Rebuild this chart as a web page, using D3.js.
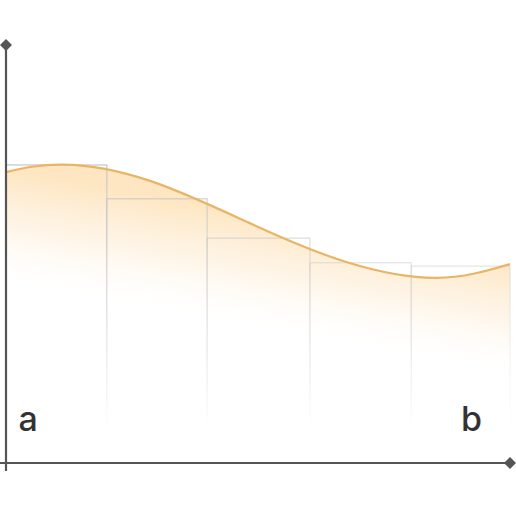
<!DOCTYPE html>
<html>
<head>
<meta charset="utf-8">
<script src="https://cdn.jsdelivr.net/npm/d3@7"></script>
<style>
  html, body { margin: 0; padding: 0; background: #fff; }
  svg { display: block; }
</style>
</head>
<body>
<svg id="chart"></svg>
<script>
// Riemann rectangles, values in percent of the axis lengths
const rectEdges = [0, 20, 39.9, 60.3, 80.4, 100];
const rectTops = [71.3, 63.2, 53.8, 47.9, 47.1];
const curveX = [0, 11.3, 28.6, 49.6, 67.5, 85.3, 100];
const curveY = [69.6, 71.4, 67.5, 56.7, 48.1, 44.3, 47.6];
const endLabels = ["a", "b"];
const labelX = [2.5, 90.3];

const width = 516;
const height = 512;

const x = d3.scaleLinear().domain([0, 100]).range([6, 510]);
const y = d3.scaleLinear().domain([0, 100]).range([463, 45]);

const svg = d3.select("#chart")
  .attr("width", width)
  .attr("height", height);

const defs = svg.append("defs");

// slanted fade, it follows the fall of the curve
const areaGradient = defs.append("linearGradient")
  .attr("id", "areaFade")
  .attr("gradientUnits", "userSpaceOnUse")
  .attr("x1", 258).attr("y1", 215)
  .attr("x2", 237).attr("y2", 332);
areaGradient.append("stop").attr("offset", 0).attr("stop-color", "#fddcaa").attr("stop-opacity", 0.72);
areaGradient.append("stop").attr("offset", 0.5).attr("stop-color", "#fde6c4").attr("stop-opacity", 0.36);
areaGradient.append("stop").attr("offset", 1).attr("stop-color", "#fff").attr("stop-opacity", 0);

const rectGradient = defs.append("linearGradient")
  .attr("id", "rectFade")
  .attr("gradientUnits", "userSpaceOnUse")
  .attr("x1", 0).attr("y1", 165)
  .attr("x2", 0).attr("y2", 430);
rectGradient.append("stop").attr("offset", 0).attr("stop-color", "#c6c6c6");
rectGradient.append("stop").attr("offset", 0.4).attr("stop-color", "#c6c6c6").attr("stop-opacity", 0.45);
rectGradient.append("stop").attr("offset", 1).attr("stop-color", "#c6c6c6").attr("stop-opacity", 0);

const points = curveX.map((d, i) => [d, curveY[i]]);

const area = d3.area()
  .x(d => x(d[0]))
  .y0(y(0))
  .y1(d => y(d[1]))
  .curve(d3.curveNatural);

const line = d3.line()
  .x(d => x(d[0]))
  .y(d => y(d[1]))
  .curve(d3.curveNatural);

svg.append("path")
  .attr("d", area(points))
  .attr("fill", "url(#areaFade)");

svg.selectAll(".bar")
  .data(rectTops)
  .join("rect")
  .attr("class", "bar")
  .attr("x", (d, i) => x(rectEdges[i]))
  .attr("y", d => y(d))
  .attr("width", (d, i) => x(rectEdges[i + 1]) - x(rectEdges[i]))
  .attr("height", d => y(0) - y(d))
  .attr("fill", "none")
  .attr("stroke", "url(#rectFade)")
  .attr("stroke-width", 1.2);

svg.append("path")
  .attr("d", line(points))
  .attr("fill", "none")
  .attr("stroke", "#e8b566")
  .attr("stroke-width", 2.2);

// axes
svg.append("line")
  .attr("x1", x(0)).attr("x2", x(0))
  .attr("y1", y(100)).attr("y2", 471)
  .attr("stroke", "#555")
  .attr("stroke-width", 2.2);

svg.append("line")
  .attr("x1", 0).attr("x2", x(100))
  .attr("y1", y(0)).attr("y2", y(0))
  .attr("stroke", "#555")
  .attr("stroke-width", 2.2);

const diamond = d3.symbol().type(d3.symbolSquare).size(72);
svg.selectAll(".tip")
  .data([[0, 100], [100, 0]])
  .join("path")
  .attr("class", "tip")
  .attr("d", diamond)
  .attr("fill", "#555")
  .attr("transform", d => `translate(${x(d[0])}, ${y(d[1])}) rotate(45)`);

svg.selectAll(".endLabel")
  .data(endLabels)
  .join("text")
  .attr("class", "endLabel")
  .attr("x", (d, i) => x(labelX[i]))
  .attr("y", 431)
  .attr("fill", "#333")
  .style("font-family", "Inter, sans-serif")
  .style("font-size", "34px")
  .style("font-weight", 500)
  .text(d => d);
</script>
</body>
</html>
